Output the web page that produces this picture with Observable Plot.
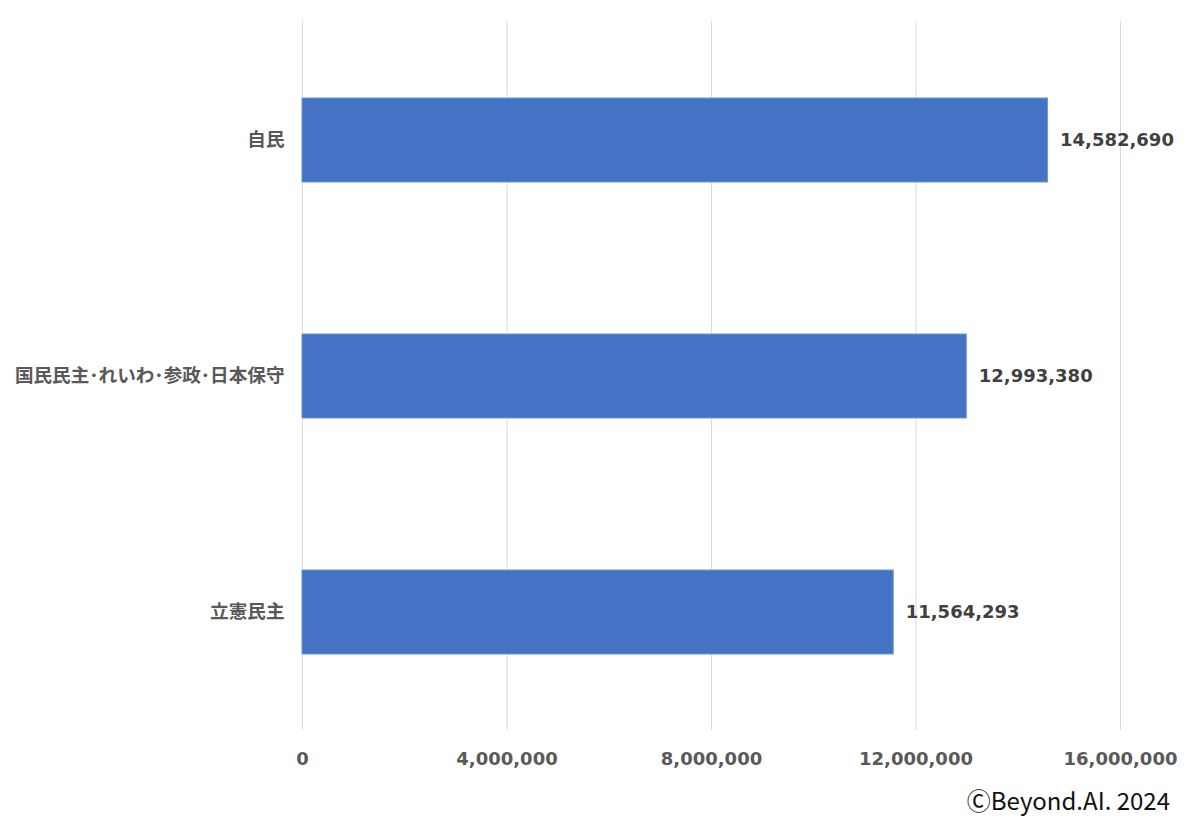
<!DOCTYPE html>
<html><head><meta charset="utf-8">
<script src="https://cdn.jsdelivr.net/npm/d3@7"></script>
<script src="https://cdn.jsdelivr.net/npm/@observablehq/plot@0.6"></script>
<style>
body{margin:0;background:#fff;}
#wrap{width:1200px;position:relative;}
#cap{height:47px;width:1170px;text-align:right;font-family:"Noto Sans CJK JP","Noto Sans",sans-serif;font-size:24px;color:#111;line-height:30px;}
</style></head><body>
<div id="wrap"><div id="chart"></div><div id="cap">ⒸBeyond.AI. 2024</div></div>
<script>
const categories = ["自民", "国民民主･れいわ･参政･日本保守", "立憲民主"];
const votes = [14582690, 12993380, 11564293];
const xTicks = [0, 4000000, 8000000, 12000000, 16000000];

const data = categories.map((c, i) => ({party: c, votes: votes[i]}));
const fmt = d3.format(",");

const chart = Plot.plot({
  width: 1200,
  height: 785,
  marginLeft: 302,
  marginRight: 80,
  marginTop: 21,
  marginBottom: 55,
  style: {background: "#fff", overflow: "visible"},
  x: {domain: [0, 16000000], ticks: xTicks, tickFormat: fmt, label: null, tickSize: 0, tickPadding: 22},
  y: {domain: categories, paddingInner: 0.645, paddingOuter: 0.3225, label: null, tickSize: 0, tickPadding: 18},
  marks: [
    Plot.ruleX(xTicks, {stroke: "#d9d9d9", strokeWidth: 1}),
    Plot.barX(data, {x: "votes", y: "party", fill: "#4472c4", stroke: "#6f95d8", strokeWidth: 1}),
    Plot.text(data, {x: "votes", y: "party", text: d => fmt(d.votes), textAnchor: "start", dx: 12,
      fill: "#404040", fontSize: 18, fontWeight: "bold", fontFamily: "DejaVu Sans"}),
    Plot.axisX({ticks: xTicks, tickFormat: fmt, tickSize: 0, tickPadding: 22, label: null,
      fill: "#595959", fontSize: 18, fontWeight: "bold", fontFamily: "DejaVu Sans"}),
    Plot.axisY({tickSize: 0, tickPadding: 18, label: null,
      fill: "#595959", fontSize: 18.6, fontWeight: "bold", fontFamily: "Noto Sans CJK JP"})
  ]
});
document.getElementById("chart").appendChild(chart);
</script>
</body></html>
